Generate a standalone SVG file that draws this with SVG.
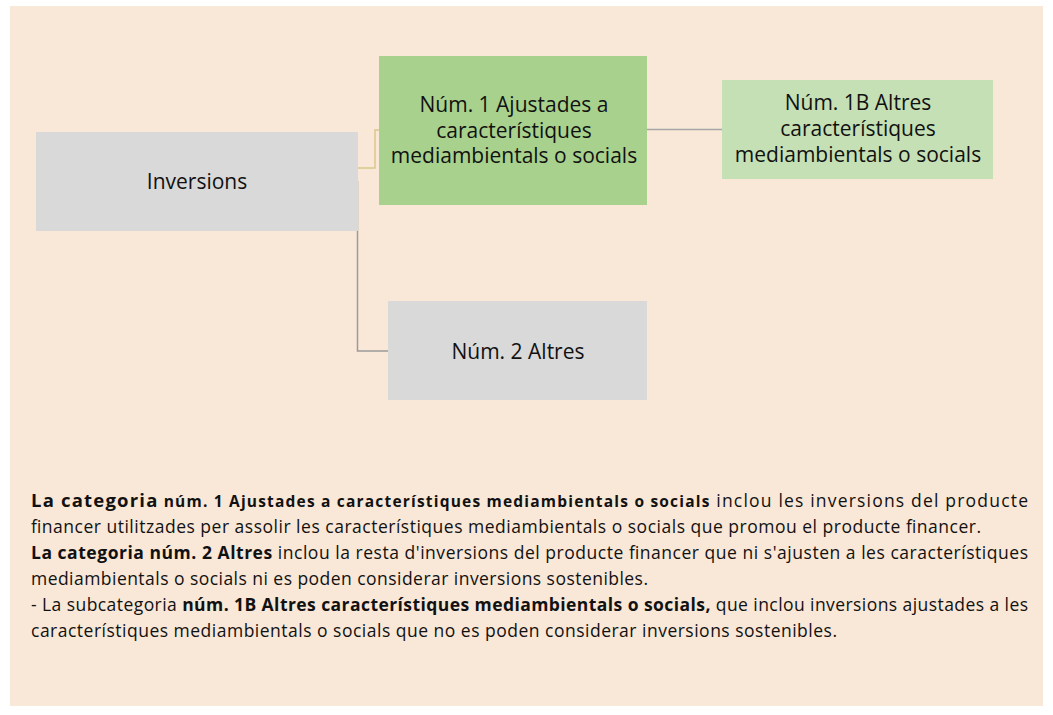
<svg xmlns="http://www.w3.org/2000/svg" width="1053" height="715" viewBox="0 0 1053 715">
<style>
.node-text{font-family:"Open Sans","Liberation Sans",sans-serif;font-size:21px;fill:#111;text-anchor:middle}
.gray{fill:#d9d9d9}
.green{fill:#a9d18e}
.lgreen{fill:#c5e0b4}
.conn{fill:none;stroke-width:1.5}
.body{font-family:"Open Sans","Liberation Sans",sans-serif;font-size:17.5px;fill:#111}
.b{font-weight:bold}
</style>
<rect x="10" y="6" width="1033" height="700" fill="#f9e7d7"/>
<g id="connectors">
<path class="conn" d="M358,168 H375 V130 H379" stroke="#d6c98c"/>
<path class="conn" d="M357.5,181 V351 H388" stroke="#9a9a9a"/>
<path class="conn" d="M647,129.5 H722" stroke="#a6a6a6"/>
</g>
<g id="node-inversions">
<rect class="gray" x="36" y="132" width="322" height="99"/>
<text class="node-text" x="197" y="188.5">Inversions</text>
</g>
<g id="node-num1">
<rect class="green" x="379" y="56" width="268" height="149"/>
<text class="node-text" x="514" y="112">Núm. 1 Ajustades a</text>
<text class="node-text" x="514" y="137.5">característiques</text>
<text class="node-text" x="514" y="163">mediambientals o socials</text>
</g>
<g id="node-num1b">
<rect class="lgreen" x="722" y="80" width="271" height="99"/>
<text class="node-text" x="858" y="110">Núm. 1B Altres</text>
<text class="node-text" x="858" y="136">característiques</text>
<text class="node-text" x="858" y="161.5">mediambientals o socials</text>
</g>
<g id="node-num2">
<rect class="gray" x="388" y="301" width="259" height="99"/>
<text class="node-text" x="518" y="358.5">Núm. 2 Altres</text>
</g>
<g id="description">
<text class="body" x="31" y="507" textLength="997" lengthAdjust="spacing"><tspan class="b" font-size="18.5">La categoria</tspan><tspan class="b" font-size="15.5"> núm. 1 Ajustades a característiques mediambientals o socials</tspan> inclou les inversions del producte</text>
<text class="body" x="31" y="533" textLength="950" lengthAdjust="spacing">financer utilitzades per assolir les característiques mediambientals o socials que promou el producte financer.</text>
<text class="body" x="31" y="559" textLength="997" lengthAdjust="spacing"><tspan class="b">La categoria núm. 2 Altres</tspan> inclou la resta d'inversions del producte financer que ni s'ajusten a les característiques</text>
<text class="body" x="31" y="585" textLength="617" lengthAdjust="spacing">mediambientals o socials ni es poden considerar inversions sostenibles.</text>
<text class="body" x="31" y="611" textLength="997" lengthAdjust="spacing">- La subcategoria <tspan class="b">núm. 1B Altres característiques mediambientals o socials,</tspan> que inclou inversions ajustades a les</text>
<text class="body" x="31" y="637" textLength="806" lengthAdjust="spacing">característiques mediambientals o socials que no es poden considerar inversions sostenibles.</text>
</g>
</svg>
